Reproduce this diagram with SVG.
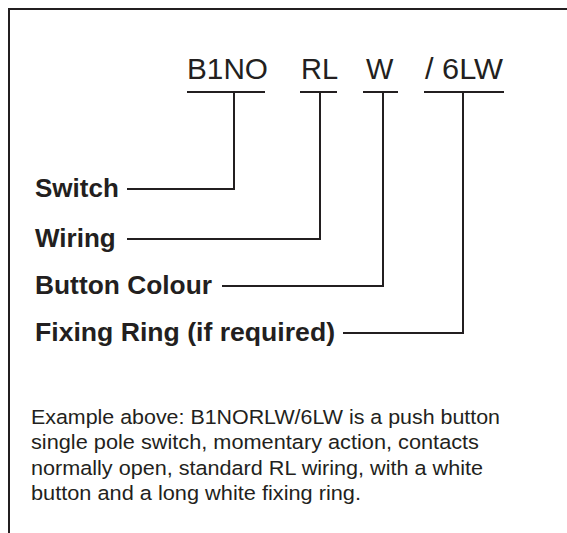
<svg xmlns="http://www.w3.org/2000/svg" width="567" height="533" viewBox="0 0 567 533">
<style>
.ln{fill:none;stroke:#231f20;stroke-width:2}
.code{font-family:"Liberation Sans",Arial,sans-serif;font-size:29px;fill:#231f20}
.lab{font-family:"Liberation Sans",Arial,sans-serif;font-size:26px;font-weight:bold;fill:#231f20}
.para{font-family:"Liberation Sans",Arial,sans-serif;font-size:20.5px;fill:#231f20}
</style>
<rect width="567" height="533" fill="#fff"/>
<path class="ln" d="M9,533 V9 H567"/>
<g id="code-b1no"><text class="code" x="187" y="79" textLength="81" lengthAdjust="spacingAndGlyphs">B1NO</text></g>
<g id="code-rl"><text class="code" x="301" y="79">RL</text></g>
<g id="code-w"><text class="code" x="366" y="79">W</text></g>
<g id="code-6lw"><text class="code" x="425" y="79" textLength="78" lengthAdjust="spacingAndGlyphs">/ 6LW</text></g>
<g id="label-switch"><text class="lab" x="35" y="197">Switch</text></g>
<g id="label-wiring"><text class="lab" x="35" y="247">Wiring</text></g>
<g id="label-colour"><text class="lab" x="35" y="294" textLength="177" lengthAdjust="spacingAndGlyphs">Button Colour</text></g>
<g id="label-ring"><text class="lab" x="35" y="341" textLength="300" lengthAdjust="spacingAndGlyphs">Fixing Ring (if required)</text></g>
<g id="connectors">
<path class="ln" d="M187,92 H265 M234,92 V189 H127"/>
<path class="ln" d="M300,92 H337 M320,92 V239 H127"/>
<path class="ln" d="M363,92 H398 M383,92 V286 H222"/>
<path class="ln" d="M424,92 H504 M463,92 V333 H343"/>
</g>
<g id="example">
<text class="para" x="31" y="424" textLength="469" lengthAdjust="spacingAndGlyphs">Example above: B1NORLW/6LW is a push button</text>
<text class="para" x="31" y="449" textLength="448" lengthAdjust="spacingAndGlyphs">single pole switch, momentary action, contacts</text>
<text class="para" x="31" y="474.5" textLength="452" lengthAdjust="spacingAndGlyphs">normally open, standard RL wiring, with a white</text>
<text class="para" x="31" y="500" textLength="330" lengthAdjust="spacingAndGlyphs">button and a long white fixing ring.</text>
</g>
</svg>
